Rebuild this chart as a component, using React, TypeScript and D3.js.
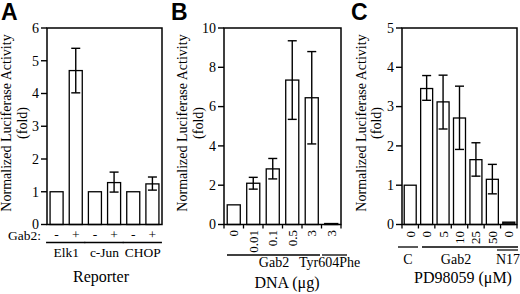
import React from "react";
import * as d3 from "d3";

// ---------- Data ----------
// Panel A
const aSigns = ["-", "+", "-", "+", "-", "+"];
const aReporters = ["Elk1", "c-Jun", "CHOP"];
const aValues = [1, 4.7, 1, 1.28, 1, 1.24];
const aErrLow: (number | null)[] = [null, 4.02, null, 0.99, null, 1.05];
const aErrHigh: (number | null)[] = [null, 5.38, null, 1.6, null, 1.45];
const aTicks = [0, 1, 2, 3, 4, 5, 6];

// Panel B
const bLabels = ["0", "0.01", "0.1", "0.5", "3", "3"];
const bValues = [1, 2.1, 2.83, 7.35, 6.45, 0.05];
const bErrLow: (number | null)[] = [null, 1.8, 2.32, 5.35, 4.1, null];
const bErrHigh: (number | null)[] = [null, 2.4, 3.36, 9.35, 8.8, null];
const bTicks = [0, 2, 4, 6, 8, 10];
const bGroups = ["Gab2", "Tyr604Phe"];

// Panel C
const cLabels = ["0", "0", "5", "10", "25", "50", "0"];
const cValues = [1, 3.46, 3.12, 2.71, 1.65, 1.15, 0.06];
const cErrLow: (number | null)[] = [null, 3.16, 2.43, 1.91, 1.23, 0.78, null];
const cErrHigh: (number | null)[] = [null, 3.79, 3.8, 3.52, 2.08, 1.53, null];
const cTicks = [0, 1, 2, 3, 4, 5];
const cGroups = ["C", "Gab2", "N17"];

const yTitle1 = "Normalized Luciferase Activity";
const yTitle2 = "(fold)";

const SERIF = "'Liberation Serif', 'Times New Roman', serif";
const SANS = "'Liberation Sans', Arial, sans-serif";

type PanelProps = {
  x0: number;
  x1: number;
  yMax: number;
  ticks: number[];
  values: number[];
  errLow: (number | null)[];
  errHigh: (number | null)[];
  pad: number;
  bottomTicks: boolean;
  t1x: number;
  t2x: number;
  letter: string;
  letterX: number;
  children?: (x: d3.ScaleBand<string>) => React.ReactNode;
};

const Y_TOP = 28;
const Y_BOT = 224.5;

function Panel(p: PanelProps) {
  const keys = p.values.map((_, i) => String(i));
  const x = d3
    .scaleBand<string>()
    .domain(keys)
    .range([p.x0, p.x1])
    .paddingInner(p.pad)
    .paddingOuter(p.pad / 2);
  const y = d3.scaleLinear().domain([0, p.yMax]).range([Y_BOT, Y_TOP]);
  const bw = x.bandwidth();
  const step = x.step();
  const cy = 123;
  return (
    <g>
      <text x={p.letterX} y={20} fontFamily={SANS} fontWeight="bold" fontSize={23}>
        {p.letter}
      </text>
      {/* y title */}
      <text
        transform={`translate(${p.t1x},${cy}) rotate(-90)`}
        textAnchor="middle"
        fontFamily={SERIF}
        fontSize={14}
      >
        {yTitle1}
      </text>
      <text
        transform={`translate(${p.t2x},${cy}) rotate(-90)`}
        textAnchor="middle"
        fontFamily={SERIF}
        fontSize={14}
      >
        {yTitle2}
      </text>
      {/* bars */}
      {p.values.map((v, i) => {
        const bx = x(String(i))!;
        const top = y(v);
        return (
          <rect
            key={"b" + i}
            x={bx}
            y={top}
            width={bw}
            height={Math.max(Y_BOT - top, 0.5)}
            fill={v < 0.1 ? "#222" : "#fff"}
            stroke="#000"
            strokeWidth={1.3}
          />
        );
      })}
      {/* error bars */}
      {p.values.map((v, i) => {
        const lo = p.errLow[i];
        const hi = p.errHigh[i];
        if (lo == null || hi == null) return null;
        const cx = x(String(i))! + bw / 2;
        return (
          <g key={"e" + i} stroke="#000" strokeWidth={1.4}>
            <line x1={cx} x2={cx} y1={y(lo)} y2={y(hi)} />
            <line x1={cx - 4.5} x2={cx + 4.5} y1={y(lo)} y2={y(lo)} />
            <line x1={cx - 4.5} x2={cx + 4.5} y1={y(hi)} y2={y(hi)} />
          </g>
        );
      })}
      {/* frame */}
      <rect
        x={p.x0}
        y={Y_TOP}
        width={p.x1 - p.x0}
        height={Y_BOT - Y_TOP}
        fill="none"
        stroke="#000"
        strokeWidth={1.5}
      />
      {/* y ticks */}
      {p.ticks.map((t) => (
        <g key={"t" + t}>
          <line x1={p.x0 - 6} x2={p.x0} y1={y(t)} y2={y(t)} stroke="#000" strokeWidth={1.4} />
          <text
            x={p.x0 - 8}
            y={y(t)}
            dy="0.34em"
            textAnchor="end"
            fontFamily={SERIF}
            fontSize={14}
          >
            {t}
          </text>
        </g>
      ))}
      {/* bottom ticks */}
      {p.bottomTicks &&
        d3.range(keys.length + 1).map((k) => {
          const xx = p.x0 + step * k;
          return (
            <line key={"bt" + k} x1={xx} x2={xx} y1={Y_BOT} y2={Y_BOT + 4} stroke="#000" strokeWidth={1.3} />
          );
        })}
      {p.children && p.children(x)}
    </g>
  );
}

export default function App() {
  return (
    <svg
      width={520}
      height={294}
      style={{ position: "absolute", left: 0, top: 0, background: "#fff" }}
    >
      <rect width={520} height={294} fill="#fff" />
      {/* Panel A */}
      <Panel
        x0={47}
        x1={162}
        yMax={6}
        ticks={aTicks}
        values={aValues}
        errLow={aErrLow}
        errHigh={aErrHigh}
        pad={0.32}
        bottomTicks={false}
        t1x={11}
        t2x={27}
        letter="A"
        letterX={1}
      >
        {(x) => (
          <g fontFamily={SERIF} fontSize={13.5}>
            <text x={41} y={240} textAnchor="end">
              Gab2:
            </text>
            {aSigns.map((s, i) => (
              <text key={i} x={x(String(i))! + x.bandwidth() / 2} y={239} textAnchor="middle">
                {s}
              </text>
            ))}
            {aReporters.map((r, g) => {
              const xa = x(String(g * 2))!;
              const xb = x(String(g * 2 + 1))! + x.bandwidth();
              return (
                <g key={r}>
                  <line x1={xa - 4} x2={xb + 3} y1={242.5} y2={242.5} stroke="#000" strokeWidth={1.3} />
                  <text x={(xa + xb) / 2} y={257} textAnchor="middle" fontSize={13.5}>
                    {r}
                  </text>
                </g>
              );
            })}
            <text x={101} y={282} textAnchor="middle" fontSize={16}>
              Reporter
            </text>
          </g>
        )}
      </Panel>
      {/* Panel B */}
      <Panel
        x0={224}
        x1={341}
        yMax={10}
        ticks={bTicks}
        values={bValues}
        errLow={bErrLow}
        errHigh={bErrHigh}
        pad={0.33}
        bottomTicks={true}
        t1x={187}
        t2x={203}
        letter="B"
        letterX={171}
      >
        {(x) => (
          <g fontFamily={SERIF} fontSize={13}>
            {bLabels.map((l, i) => (
              <text
                key={i}
                transform={`translate(${x(String(i))! + x.bandwidth() / 2 + 4.5},230) rotate(-90)`}
                textAnchor="end"
              >
                {l}
              </text>
            ))}
            <line x1={227} x2={320} y1={255} y2={255} stroke="#000" strokeWidth={1.3} />
            <line x1={322} x2={347} y1={255} y2={255} stroke="#000" strokeWidth={1.3} />
            <text x={274} y={267} textAnchor="middle" fontSize={14}>
              {bGroups[0]}
            </text>
            <text x={299} y={267} textAnchor="start" fontSize={14}>
              {bGroups[1]}
            </text>
            <text x={287} y={288} textAnchor="middle" fontSize={16}>
              DNA (μg)
            </text>
          </g>
        )}
      </Panel>
      {/* Panel C */}
      <Panel
        x0={402}
        x1={517}
        yMax={5}
        ticks={cTicks}
        values={cValues}
        errLow={cErrLow}
        errHigh={cErrHigh}
        pad={0.27}
        bottomTicks={true}
        t1x={366}
        t2x={381}
        letter="C"
        letterX={351}
      >
        {(x) => (
          <g fontFamily={SERIF} fontSize={13}>
            {cLabels.map((l, i) => (
              <text
                key={i}
                transform={`translate(${x(String(i))! + x.bandwidth() / 2 + 4.5},231) rotate(-90)`}
                textAnchor="end"
              >
                {l}
              </text>
            ))}
            <line x1={398} x2={418} y1={247} y2={247} stroke="#000" strokeWidth={1.3} />
            <line x1={422} x2={518} y1={247} y2={247} stroke="#000" strokeWidth={1.3} />
            <line x1={497} x2={518} y1={250} y2={250} stroke="#000" strokeWidth={1.2} />
            <text x={408} y={264} textAnchor="middle" fontSize={14}>
              {cGroups[0]}
            </text>
            <text x={456} y={264} textAnchor="middle" fontSize={14}>
              {cGroups[1]}
            </text>
            <text x={508} y={264} textAnchor="middle" fontSize={14}>
              {cGroups[2]}
            </text>
            <text x={463} y={283} textAnchor="middle" fontSize={16}>
              PD98059 (μM)
            </text>
          </g>
        )}
      </Panel>
    </svg>
  );
}
